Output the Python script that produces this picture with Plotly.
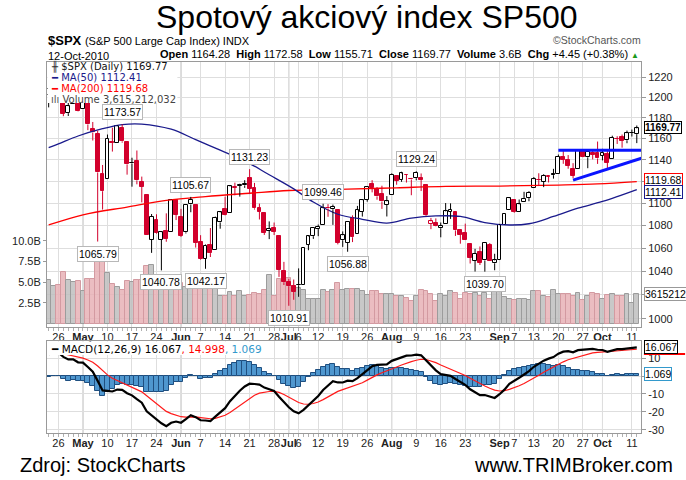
import math
import plotly.graph_objects as go

# ---------------- data ----------------
dates = [
    "2010-04-22", "2010-04-23", "2010-04-26", "2010-04-27", "2010-04-28", "2010-04-29", "2010-04-30",
    "2010-05-03", "2010-05-04", "2010-05-05", "2010-05-06", "2010-05-07", "2010-05-10", "2010-05-11",
    "2010-05-12", "2010-05-13", "2010-05-14", "2010-05-17", "2010-05-18", "2010-05-19", "2010-05-20",
    "2010-05-21", "2010-05-24", "2010-05-25", "2010-05-26", "2010-05-27", "2010-05-28",
    "2010-06-01", "2010-06-02", "2010-06-03", "2010-06-04", "2010-06-07", "2010-06-08", "2010-06-09",
    "2010-06-10", "2010-06-11", "2010-06-14", "2010-06-15", "2010-06-16", "2010-06-17", "2010-06-18",
    "2010-06-21", "2010-06-22", "2010-06-23", "2010-06-24", "2010-06-25", "2010-06-28", "2010-06-29",
    "2010-06-30",
    "2010-07-01", "2010-07-02", "2010-07-06", "2010-07-07", "2010-07-08", "2010-07-09", "2010-07-12",
    "2010-07-13", "2010-07-14", "2010-07-15", "2010-07-16", "2010-07-19", "2010-07-20", "2010-07-21",
    "2010-07-22", "2010-07-23", "2010-07-26", "2010-07-27", "2010-07-28", "2010-07-29", "2010-07-30",
    "2010-08-02", "2010-08-03", "2010-08-04", "2010-08-05", "2010-08-06", "2010-08-09", "2010-08-10",
    "2010-08-11", "2010-08-12", "2010-08-13", "2010-08-16", "2010-08-17", "2010-08-18", "2010-08-19",
    "2010-08-20", "2010-08-23", "2010-08-24", "2010-08-25", "2010-08-26", "2010-08-27", "2010-08-30",
    "2010-08-31",
    "2010-09-01", "2010-09-02", "2010-09-03", "2010-09-07", "2010-09-08", "2010-09-09", "2010-09-10",
    "2010-09-13", "2010-09-14", "2010-09-15", "2010-09-16", "2010-09-17", "2010-09-20", "2010-09-21",
    "2010-09-22", "2010-09-23", "2010-09-24", "2010-09-27", "2010-09-28", "2010-09-29", "2010-09-30",
    "2010-10-01", "2010-10-04", "2010-10-05", "2010-10-06", "2010-10-07", "2010-10-08", "2010-10-11",
    "2010-10-12",
]
opens = [
    1202.5, 1207.9, 1217.1, 1209.9, 1184.6, 1193.3, 1206.8,
    1188.6, 1197.5, 1169.2, 1164.4, 1127.0, 1122.3, 1156.4, 1155.4, 1170.0, 1157.2, 1136.5, 1138.8,
    1119.6, 1107.3, 1067.3, 1084.8, 1067.4, 1075.5, 1074.3, 1102.6,
    1087.3, 1073.9, 1098.8, 1098.4, 1065.8, 1050.8, 1062.8, 1058.8, 1082.7, 1095.0, 1091.2, 1114.0,
    1116.0, 1116.2, 1122.8, 1113.9, 1095.6, 1090.9, 1075.1, 1077.5, 1071.1, 1040.6,
    1031.1, 1027.7, 1028.1, 1028.5, 1062.9, 1070.5, 1077.2, 1080.7, 1095.6, 1094.5, 1093.9, 1066.9,
    1064.5, 1086.7, 1072.1, 1092.2, 1102.9, 1117.4, 1112.8, 1108.1, 1098.4,
    1107.5, 1125.3, 1121.1, 1125.8, 1122.1, 1122.8, 1122.9, 1116.9, 1081.5, 1082.2, 1077.5, 1081.2,
    1092.1, 1092.4, 1075.6, 1073.4, 1063.2, 1049.0, 1056.3, 1049.3, 1062.9, 1046.9,
    1049.7, 1080.7, 1093.6, 1102.6, 1092.4, 1101.2, 1104.6, 1113.4, 1121.2, 1119.4, 1123.9, 1126.4,
    1126.6, 1142.8, 1139.5, 1131.1, 1131.7, 1148.6, 1142.3, 1146.8, 1146.0,
    1143.5, 1145.0, 1140.7, 1159.8, 1161.6, 1158.4, 1165.3, 1164.28,
]
highs = [
    1210.3, 1217.3, 1219.8, 1211.4, 1195.1, 1209.4, 1208.0,
    1205.0, 1197.5, 1176.0, 1167.6, 1135.1, 1163.9, 1170.5, 1172.9, 1173.57, 1157.2, 1141.9, 1148.7,
    1124.3, 1107.3, 1090.2, 1090.0, 1074.8, 1090.8, 1103.5, 1102.6,
    1094.8, 1098.4, 1105.67, 1098.4, 1071.4, 1063.2, 1077.7, 1087.9, 1092.3, 1105.9, 1115.6, 1118.7,
    1117.7, 1121.0, 1131.23, 1118.5, 1099.6, 1090.9, 1083.6, 1082.6, 1071.1, 1048.1,
    1033.6, 1033.0, 1042.5, 1060.9, 1071.3, 1078.2, 1080.8, 1099.46, 1099.1, 1098.7, 1093.9, 1074.7,
    1083.9, 1089.0, 1097.5, 1103.7, 1115.0, 1121.0, 1114.7, 1115.9, 1106.4,
    1127.3, 1125.4, 1128.8, 1126.6, 1123.1, 1129.24, 1127.2, 1116.9, 1086.7, 1086.3, 1082.6, 1100.1,
    1099.8, 1092.4, 1075.6, 1081.6, 1063.2, 1059.4, 1061.5, 1065.2, 1064.4, 1055.1,
    1081.3, 1090.1, 1105.1, 1102.6, 1103.3, 1110.3, 1110.9, 1123.9, 1127.4, 1126.5, 1125.4, 1131.5,
    1144.9, 1148.6, 1144.4, 1136.8, 1148.9, 1149.9, 1150.0, 1148.6, 1157.2,
    1150.3, 1148.2, 1162.8, 1162.3, 1163.9, 1167.7, 1168.7, 1172.58,
]
lows = [
    1190.2, 1205.1, 1211.1, 1181.6, 1181.8, 1193.3, 1186.3,
    1188.6, 1168.1, 1158.2, 1065.79, 1094.2, 1122.3, 1147.7, 1155.4, 1156.1, 1126.1, 1115.0, 1117.2,
    1100.7, 1071.6, 1055.9, 1072.7, 1040.78, 1065.6, 1074.3, 1084.8,
    1069.9, 1072.9, 1091.8, 1060.5, 1049.9, 1042.17, 1052.3, 1058.8, 1077.1, 1089.0, 1091.2, 1107.1,
    1105.9, 1113.9, 1108.2, 1094.2, 1085.3, 1071.6, 1067.9, 1071.5, 1035.2, 1028.3,
    1010.91, 1015.9, 1018.4, 1028.5, 1058.2, 1068.1, 1070.5, 1080.7, 1087.7, 1080.5, 1063.3, 1061.1,
    1056.88, 1065.3, 1072.1, 1087.9, 1101.3, 1109.8, 1103.1, 1094.8, 1088.0,
    1107.5, 1116.8, 1119.5, 1118.8, 1107.2, 1120.9, 1111.0, 1088.6, 1076.7, 1079.0, 1069.5, 1081.2,
    1085.8, 1070.7, 1063.9, 1067.1, 1046.7, 1039.8, 1045.4, 1039.70, 1048.8, 1040.9,
    1049.7, 1080.4, 1093.6, 1091.2, 1092.4, 1101.2, 1101.7, 1113.4, 1115.6, 1114.6, 1118.9, 1122.4,
    1126.6, 1136.2, 1131.6, 1122.8, 1131.7, 1142.0, 1132.1, 1140.3, 1136.1,
    1139.4, 1131.9, 1140.7, 1154.9, 1151.4, 1155.6, 1162.0, 1155.71,
]
closes = [
    1208.67, 1217.28, 1212.05, 1183.71, 1191.36, 1206.78, 1186.69,
    1202.26, 1173.60, 1165.87, 1128.15, 1110.88, 1159.73, 1155.79, 1171.67, 1157.44, 1135.68, 1136.94,
    1120.80, 1115.05, 1071.59, 1087.69, 1073.65, 1074.03, 1067.95, 1103.06, 1089.41,
    1070.71, 1098.38, 1102.83, 1064.88, 1050.47, 1062.00, 1055.69, 1086.84, 1091.60, 1089.63, 1115.23,
    1114.61, 1116.04, 1117.51, 1113.20, 1095.31, 1092.04, 1073.69, 1076.76, 1074.57, 1041.24, 1030.71,
    1027.37, 1022.58, 1028.06, 1060.27, 1070.25, 1077.96, 1078.75, 1095.34, 1095.17, 1096.48, 1064.88,
    1071.25, 1083.48, 1069.59, 1093.67, 1102.66, 1115.01, 1113.84, 1106.13, 1101.53, 1101.60,
    1125.86, 1120.46, 1127.24, 1125.81, 1121.64, 1127.79, 1121.06, 1089.47, 1083.61, 1079.25, 1079.38,
    1092.54, 1094.16, 1075.63, 1071.69, 1067.36, 1051.87, 1055.33, 1047.22, 1064.59, 1048.92, 1049.33,
    1080.29, 1090.10, 1104.51, 1091.84, 1098.87, 1104.18, 1109.55, 1121.90, 1121.10, 1125.07, 1124.66,
    1125.59, 1142.71, 1139.78, 1134.28, 1124.83, 1148.67, 1142.16, 1147.70, 1144.73, 1141.20,
    1146.24, 1137.03, 1160.75, 1159.97, 1158.06, 1165.15, 1165.32, 1169.77,
]
prev_close_first = 1205.94
volume_bn = [
    5.3, 4.6, 4.7, 6.2, 5.3, 5.0, 5.2,
    3.9, 5.4, 5.4, 8.6, 8.0, 6.1, 4.8, 4.4, 4.1, 5.1, 5.0, 5.3, 5.3, 7.0,
    7.1, 5.7, 5.5, 4.7, 5.0, 4.4,
    4.9, 4.4, 4.5, 5.0, 4.8, 4.9, 4.3, 4.3, 3.3, 3.4, 3.8, 3.3, 3.9, 3.3,
    3.5, 3.7, 3.6, 4.1, 5.9, 3.3, 5.4, 5.1,
    5.5, 4.5, 4.3, 4.1, 3.0, 3.0, 3.0, 4.1, 3.8, 4.1, 4.9, 4.1,
    4.15, 4.15, 4.15, 3.9, 3.5, 3.95, 3.95, 3.6, 3.6,
    3.6, 3.35, 3.3, 3.1, 2.7, 3.3, 4.1, 3.95, 3.6, 2.7, 3.55,
    3.3, 3.9, 3.7, 2.95, 3.75, 3.6, 3.7, 3.4, 3.7, 3.0, 4.1,
    4.0, 3.2, 3.0, 2.9, 3.0, 3.0, 2.9, 4.0, 3.9, 3.3, 3.2,
    4.1, 3.6, 3.6, 3.6, 3.35, 3.75, 2.9, 3.35, 3.65, 3.6,
    3.0, 3.5, 3.6, 3.3, 3.3, 3.55, 2.5, 3.615,
]
ma50_dates = ["2010-04-22", "2010-04-26", "2010-04-30", "2010-05-07", "2010-05-13", "2010-05-19",
              "2010-05-27", "2010-06-04", "2010-06-11", "2010-06-18", "2010-06-25", "2010-07-02",
              "2010-07-09", "2010-07-16", "2010-07-23", "2010-07-30", "2010-08-06", "2010-08-13",
              "2010-08-20", "2010-08-27", "2010-09-03", "2010-09-10", "2010-09-17", "2010-09-24",
              "2010-10-01", "2010-10-12"]
ma50_vals = [1151.5, 1155.0, 1162.5, 1169.5, 1173.5, 1174.0,
             1169.0, 1159.0, 1149.0, 1139.0, 1126.0, 1113.0,
             1101.0, 1090.0, 1085.5, 1082.0, 1086.5, 1088.5,
             1088.0, 1082.5, 1080.4, 1081.5, 1088.0, 1095.5,
             1101.5, 1112.41]
ma200_dates = ["2010-04-22", "2010-05-03", "2010-05-14", "2010-05-26", "2010-06-08", "2010-06-21",
               "2010-07-01", "2010-07-20", "2010-08-03", "2010-08-17", "2010-09-01", "2010-09-20",
               "2010-09-30", "2010-10-12"]
ma200_vals = [1080.4, 1089.5, 1096.5, 1102.5, 1106.0, 1109.0,
              1111.5, 1112.7, 1114.0, 1115.3, 1115.6, 1116.5,
              1117.5, 1119.68]
macd_seed_fast, macd_seed_slow, macd_seed_signal = 1194.0, 1182.0, 13.0
tick_dates = ["2010-04-26", "2010-05-03", "2010-05-10", "2010-05-17", "2010-05-24", "2010-06-01",
              "2010-06-07", "2010-06-14", "2010-06-21", "2010-06-28", "2010-07-01", "2010-07-06",
              "2010-07-12", "2010-07-19", "2010-07-26", "2010-08-02", "2010-08-09", "2010-08-16",
              "2010-08-23", "2010-09-01", "2010-09-07", "2010-09-13", "2010-09-20", "2010-09-27",
              "2010-10-01", "2010-10-11"]
tick_labels = ["26", "May", "10", "17", "24", "Jun", "7", "14", "21", "28", "Jul", "6", "12", "19", "26",
               "Aug", "9", "16", "23", "Sep", "7", "13", "20", "27", "Oct", "11"]
high_labels = ["2010-05-13", "2010-06-03", "2010-06-21", "2010-07-13", "2010-08-09"]
low_labels = ["2010-05-06", "2010-05-25", "2010-06-08", "2010-07-01", "2010-07-20", "2010-08-27"]
trend_flat = (["2010-09-20", "2010-10-12"], [1149.0, 1149.0])
trend_rise = (["2010-09-23", "2010-10-12"], [1121.0, 1142.0])

# ---------------- derived ----------------
n = len(dates)
idx = list(range(n))
pos = {d: i for i, d in enumerate(dates)}
prev = [prev_close_first] + closes[:-1]
down = [c < p for c, p in zip(closes, prev)]

e12, e26, sig = macd_seed_fast, macd_seed_slow, macd_seed_signal
macd, signal = [], []
for c in closes:
    e12 += 2 / 13 * (c - e12)
    e26 += 2 / 27 * (c - e26)
    m = e12 - e26
    sig += 2 / 10 * (m - sig)
    macd.append(m)
    signal.append(sig)
hist = [m - s for m, s in zip(macd, signal)]

# ---------------- geometry ----------------
W, H = 686, 480
PL, PR, PT, PB = 35, 641, 62, 433


def fx(px):
    return (px - PL) / (PR - PL)


def fy(py):
    return (PB - py) / (PB - PT)


FONT = "DejaVu Sans"
ARIAL = "Liberation Sans, Arial"
RED = "#d2002c"

fig = go.Figure()

vcol = ["rgba(232,178,182,0.85)" if d else "rgba(190,190,190,0.85)" for d in down]
vline = ["#d39aa1" if d else "#9c9c9c" for d in down]
fig.add_trace(go.Bar(x=idx, y=[v * 1e9 for v in volume_bn], marker=dict(color=vcol, line=dict(color=vline, width=1)),
                     width=1.0, xaxis="x", yaxis="y", showlegend=False, hoverinfo="skip"))

fig.add_trace(go.Scatter(x=[pos[d] for d in ma200_dates], y=ma200_vals, mode="lines",
                         line=dict(color="#ff0000", width=1.3, shape="spline"),
                         xaxis="x", yaxis="y2", showlegend=False, hoverinfo="skip"))
fig.add_trace(go.Scatter(x=[pos[d] for d in ma50_dates], y=ma50_vals, mode="lines",
                         line=dict(color="#1a1a8c", width=1.3, shape="spline"),
                         xaxis="x", yaxis="y2", showlegend=False, hoverinfo="skip"))

body_base = [min(o, c) for o, c in zip(opens, closes)]
body_len = [max(abs(c - o), 0.2) for o, c in zip(opens, closes)]
edge = [RED if d else "#000000" for d in down]
fill = ["#ffffff" if c > o else (RED if d else "#000000") for o, c, d in zip(opens, closes, down)]
fig.add_trace(go.Bar(x=idx, y=body_len, base=body_base, width=0.78,
                     marker=dict(color=fill, line=dict(color=edge, width=1)),
                     xaxis="x", yaxis="y2", showlegend=False, hoverinfo="skip"))

for want_down, colr in [(False, "#000000"), (True, RED)]:
    wx, wy = [], []
    for i in idx:
        if down[i] != want_down:
            continue
        top = max(opens[i], closes[i])
        bot = min(opens[i], closes[i])
        wx += [i, i, None, i, i, None]
        wy += [highs[i], top, None, bot, lows[i], None]
    fig.add_trace(go.Scatter(x=wx, y=wy, mode="lines", line=dict(color=colr, width=1),
                             xaxis="x", yaxis="y2", showlegend=False, hoverinfo="skip"))

for tl in (trend_flat, trend_rise):
    fig.add_trace(go.Scatter(x=[pos[tl[0][0]], n + 0.3], y=tl[1], mode="lines",
                             line=dict(color="#0a14ff", width=3), xaxis="x", yaxis="y2",
                             showlegend=False, hoverinfo="skip"))

fig.add_trace(go.Bar(x=idx, y=hist, width=1.0, marker=dict(color="#4f97cf", line=dict(color="#1f4f80", width=1)),
                     xaxis="x2", yaxis="y3", showlegend=False, hoverinfo="skip"))
fig.add_trace(go.Scatter(x=idx, y=signal, mode="lines", line=dict(color="#ff1a1a", width=1.2),
                         xaxis="x2", yaxis="y3", showlegend=False, hoverinfo="skip"))
fig.add_trace(go.Scatter(x=idx, y=macd, mode="lines", line=dict(color="#000000", width=2.2),
                         xaxis="x2", yaxis="y3", showlegend=False, hoverinfo="skip"))

# ---------------- axes ----------------
month_names = {"May", "Jun", "Jul", "Aug", "Sep", "Oct"}
tickvals = [pos[d] for d in tick_dates]
ticktext = ["<b>%s</b>" % t if t in month_names else t for t in tick_labels]
month_pos = [pos[d] for d, t in zip(tick_dates, tick_labels) if t in month_names]

xr = [-0.34, 120.86]
xcommon = dict(range=xr, tickmode="array", tickvals=tickvals, ticktext=ticktext, tickangle=0, showgrid=True,
               gridcolor="#dedede", gridwidth=1, showline=True, linecolor="#9a9a9a", mirror=True,
               ticks="", tickfont=dict(family=ARIAL, size=11, color="#222"), zeroline=False,
               minor=dict(tick0=0, dtick=1, ticks="outside", ticklen=3, tickcolor="#b0b0b0", showgrid=False))
price_dom = [fy(327), 1.0]
macd_dom = [0.0, fy(341)]

yticks_price = list(range(1000, 1240, 20))
hidden_price = {1020, 1120}
fig.update_layout(
    width=W, height=H, autosize=False,
    margin=dict(l=PL, r=W - PR, t=PT, b=H - PB, pad=0),
    paper_bgcolor="white", plot_bgcolor="white", bargap=0, barmode="overlay",
    xaxis=dict(domain=[0, 1], anchor="y", **xcommon),
    xaxis2=dict(domain=[0, 1], anchor="y3", matches="x", **xcommon),
    yaxis=dict(domain=price_dom, range=[-0.4e9, 31.6e9], side="left", tickmode="array",
               tickvals=[2.5e9, 5e9, 7.5e9, 10e9], ticktext=["2.5B", "5.0B", "7.5B", "10.0B"],
               showgrid=False, zeroline=False, showline=False, ticks="outside", ticklen=3, tickcolor="#999",
               tickfont=dict(family=ARIAL, size=11, color="#222")),
    yaxis2=dict(domain=price_dom, overlaying="y", type="log", side="right",
                range=[math.log10(993.4), math.log10(1235.5)], tickmode="array", tickvals=yticks_price,
                ticktext=["" if v in hidden_price else str(v) for v in yticks_price], showgrid=True,
                gridcolor="#dedede", showline=True, linecolor="#9a9a9a", mirror=True, ticks="outside",
                ticklen=4, tickcolor="#999", tickfont=dict(family=ARIAL, size=11, color="#222"), anchor="x"),
    yaxis3=dict(domain=macd_dom, anchor="x2", side="right", range=[-31.8, 19.6], tickmode="array",
                tickvals=[-30, -20, -10, 0, 10], ticktext=["-30", "-20", "-10", "", "10"],
                showgrid=True, gridcolor="#dedede", zeroline=False, showline=True, linecolor="#9a9a9a",
                mirror=True, ticks="outside", ticklen=4, tickcolor="#999",
                tickfont=dict(family=ARIAL, size=11, color="#222")),
)

shapes = []
for m in month_pos:
    for yr in ("y domain", "y3 domain"):
        shapes.append(dict(type="line", xref="x", yref=yr, x0=m, x1=m, y0=0, y1=1,
                           line=dict(color="#b5b5b5", width=1), layer="below"))
shapes.append(dict(type="rect", xref="paper", yref="paper", x0=fx(35.5), x1=fx(168), y0=fy(103), y1=fy(62.5),
                   fillcolor="white", line=dict(width=0), layer="above"))
shapes.append(dict(type="rect", xref="paper", yref="paper", x0=fx(35.5), x1=fx(266), y0=fy(355), y1=fy(341.5),
                   fillcolor="white", line=dict(width=0), layer="above"))
shapes.append(dict(type="line", xref="paper", yref="paper", x0=fx(644), x1=fx(686), y0=fy(354), y1=fy(354),
                   line=dict(color="#ff0000", width=2), layer="above"))
fig.update_layout(shapes=shapes)

ann = []


def A(text, xp, yp, size=11, color="#000", family=FONT, xanchor="left", **kw):
    ann.append(dict(text=text, x=fx(xp), y=fy(yp), xref="paper", yref="paper", showarrow=False,
                    xanchor=xanchor, yanchor="middle", font=dict(size=size, color=color, family=family), **kw))


A("Spotový akciový index SP500", 361, 17, size=32, family=ARIAL, xanchor="center")
A("<b>$SPX</b> <span style='font-size:11px'>(S&P 500 Large Cap Index) INDX</span>", 34, 40.5, size=13, family=ARIAL)
A("12-Oct-2010", 34, 55.5, size=11, family=ARIAL)
A("©StockCharts.com", 643, 39.5, size=10.5, color="#555", family=ARIAL, xanchor="right")
A("<b>Open</b> 1164.28  <b>High</b> 1172.58  <b>Low</b> 1155.71  <b>Close</b> 1169.77  "
  "<b>Volume</b> 3.6B  <b>Chg</b> +4.45 (+0.38%) <span style='color:#1a9a1a;font-size:8px'>▲</span>",
  641, 54.5, size=11, family=ARIAL, xanchor="right")

A("<span style='color:#333'>╫</span> $SPX (Daily) 1169.77", 37, 66.5, size=10, color="#111")
A("<b>━</b> MA(50) 1112.41", 37, 77.5, size=10, color="#1a1a8c")
A("<b>━</b> MA(200) 1119.68", 37, 88.5, size=10, color="#ff0000")
A("<span style='color:#555'>ılı</span> Volume 3,615,212,032", 37, 99.5, size=10, color="#444")

A("<b>━</b> MACD(12,26,9) 16.067<span style='color:#ff0000'>, 14.998</span><span style='color:#3399cc'>, 1.069</span>",
  37, 348.5, size=10.5, color="#000")

A("Zdroj: StockCharts", 5, 465, size=20, family=ARIAL)
A("www.TRIMBroker.com", 676, 465, size=20, family=ARIAL, xanchor="right")

for d in high_labels:
    i = pos[d]
    ann.append(dict(text="%.2f" % highs[i], x=i, y=math.log10(highs[i]), xref="x", yref="y2", showarrow=False,
                    yanchor="bottom", yshift=4, bgcolor="white", bordercolor="#b8b8b8", borderwidth=1, borderpad=1,
                    font=dict(size=10.5, family=ARIAL, color="#000")))
for d in low_labels:
    i = pos[d]
    ann.append(dict(text="%.2f" % lows[i], x=i, y=math.log10(lows[i]), xref="x", yref="y2", showarrow=False,
                    yanchor="top", yshift=-4, bgcolor="white", bordercolor="#b8b8b8", borderwidth=1, borderpad=1,
                    font=dict(size=10.5, family=ARIAL, color="#000")))


def tag(text, yval, yref, border, bold=False, shift=0, size=10.5):
    ann.append(dict(text=("<b>%s</b>" % text) if bold else text, x=1, y=yval, xref="paper", yref=yref,
                    showarrow=False, xanchor="left", xshift=3, yshift=shift, yanchor="middle", bgcolor="white",
                    bordercolor=border, borderwidth=1, borderpad=0,
                    font=dict(size=size, family=ARIAL, color="#000")))


tag("1119.68", math.log10(1119.68), "y2", "#ff0000", shift=2)
tag("1112.41", math.log10(1112.41), "y2", "#1a1a8c", shift=-2)
tag("1169.77", math.log10(closes[-1]), "y2", "#000000", bold=True, size=10, shift=0.5)
tag("3615212", volume_bn[-1] * 1e9, "y", "#999999")
tag("16.067", 16.067, "y3", "#000000")
tag("1.069", 1.069, "y3", "#3399cc")

fig.update_layout(annotations=ann)
fig.write_html("out.html")
